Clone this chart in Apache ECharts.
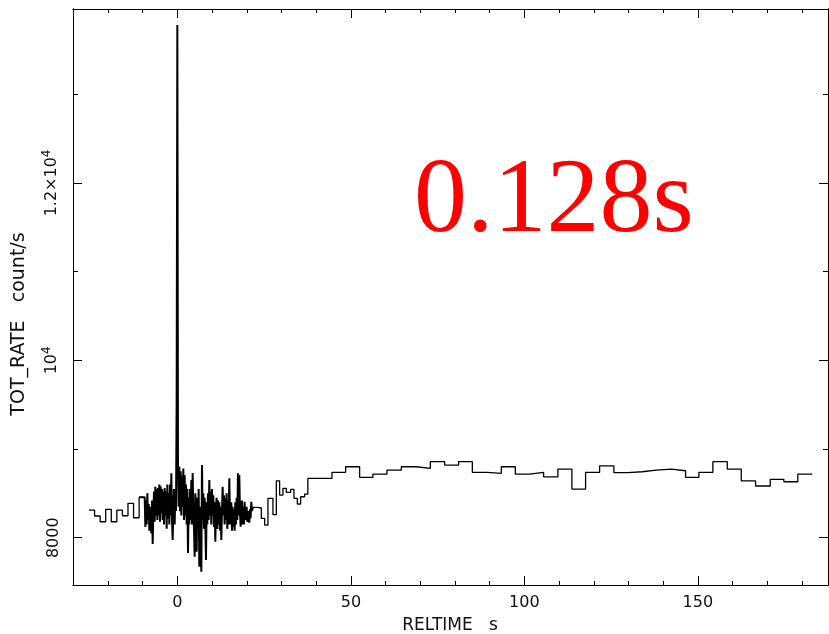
<!DOCTYPE html>
<html>
<head>
<meta charset="utf-8">
<script src="https://cdn.jsdelivr.net/npm/echarts@6/dist/echarts.min.js"></script>
<style>
  html, body { margin: 0; padding: 0; background: #fff; }
  #chart { width: 829px; height: 634px; }
</style>
</head>
<body>
<div id="chart"></div>
<script>
// light curve, count/s, binned at three resolutions
const preStart = -25.47
const preBin = 1.605
const preRate = [8312, 8245, 8180, 8320, 8180, 8312, 8248, 8388, 8225, 8455]

const burstStart = -9.42
const burstBin = 0.192
const burstRate = [
  8450, 8120, 8420, 8150, 8500, 8200, 8380, 8080, 8350, 8150,
  8050, 8420, 7930, 8300, 8520, 8180, 8575, 8250, 8550, 8200,
  8560, 8250, 8600, 8180, 8580, 8280, 8550, 8200, 8520, 8150,
  8560, 8250, 8520, 8100, 8600, 8220, 8500, 8150, 8600, 8250,
  8726, 8200, 7974, 8350, 8550, 8150, 8520, 8300, 9600, 13780,
  8820, 8350, 8800, 8300, 8750, 8250, 8700, 8350, 8780, 8200,
  8707, 8250, 8600, 8150, 8550, 7828, 8450, 8150, 8550, 8200,
  8650, 8150, 8729, 8300, 8100, 7786, 8500, 8200, 7842, 8450,
  8150, 8550, 7673, 8350, 8050, 7617, 8819, 8200, 8500, 8100,
  8450, 8150, 7749, 8400, 8150, 8500, 8200, 8650, 8250, 8520,
  8150, 8550, 8250, 8480, 8120, 8400, 7955, 8350, 8450, 8100,
  8420, 8150, 8400, 8080, 8350, 7974, 8300, 8575, 8250, 8480,
  8150, 8450, 8200, 8500, 8100, 8420, 8150, 8669, 8250, 8150,
  8400, 8080, 8350, 8120, 8320, 8080, 8400, 8150, 8450, 8200,
  8726, 8250, 8707, 8300, 8124, 8300, 8420, 8150, 8350, 8150,
  8406, 8200, 8190, 8350, 8180, 8190, 8300, 8170, 8320, 8220, 8406, 8300
]

const midTimes = [21.78, 22.99, 24.2, 25.15, 26.1, 27.54, 28.52, 29.47, 30.42, 31.4, 32.64, 33.59, 34.57, 35.52, 36.67]
const midRate = [8343, 8335, 8219, 8143, 8444, 8260, 8642, 8481, 8557, 8512, 8545, 8444, 8380, 8462, 8492]

const tailTimes = [
  37.6, 40.5, 44.55, 48.49, 52.52, 56.36, 60.39, 64.54, 68.86, 72.9,
  77.02, 81.05, 85.0, 89.21, 93.35, 97.39, 101.51, 105.54, 109.66, 113.69,
  117.64, 121.68, 125.8, 129.83, 133.98, 138.01, 142.34, 146.46, 150.29, 154.32,
  158.47, 162.5, 166.63, 170.86, 174.78, 178.81
]
const tailEnd = 182.96
const tailRate = [
  8669, 8669, 8737, 8800, 8681, 8718, 8763, 8800, 8782, 8857,
  8819, 8857, 8737, 8726, 8800, 8718, 8737, 8687, 8774, 8549,
  8737, 8811, 8733, 8744, 8763, 8774, 8755, 8681, 8737, 8857,
  8774, 8642, 8583, 8658, 8631, 8718
]

const xMajor = [0, 50, 100, 150]
const xMinor = [-20, -10, 10, 20, 30, 40, 60, 70, 80, 90, 110, 120, 130, 140, 160, 170, 180]
const yMajor = [8000, 10000, 12000]
const yMinor = [9000, 11000, 13000]

const xMin = -30.08
const xMax = 187.5
const yMin = 7467
const yMax = 13961

const prePts = preRate.map((v, i) => [preStart + i * preBin, v])
const burstPts = burstRate.map((v, i) => [burstStart + i * burstBin, v])
const restPts = midTimes.map((t, i) => [t, midRate[i]])
tailTimes.forEach((t, i) => restPts.push([t, tailRate[i]]))
restPts.push([tailEnd, tailRate[tailRate.length - 1]])

const labelFont = { fontFamily: 'DejaVu Sans', fontSize: 16, color: '#111' }

const makeX = (position, ticks, len, withLabel) => ({
  type: 'value',
  position: position,
  min: xMin,
  max: xMax,
  axisLine: { show: true, onZero: false, lineStyle: { color: '#000', width: 1 } },
  axisTick: { show: true, inside: true, length: len, customValues: ticks, lineStyle: { color: '#000' } },
  axisLabel: withLabel
    ? { show: true, customValues: ticks, margin: 10, ...labelFont }
    : { show: false },
  splitLine: { show: false }
})

const yLabel = v => {
  if (v === 10000) return '10{s|4}'
  if (v === 12000) return '1.2×10{s|4}'
  return String(v)
}

const makeY = (position, ticks, len, withLabel) => ({
  type: 'value',
  position: position,
  min: yMin,
  max: yMax,
  axisLine: { show: true, onZero: false, lineStyle: { color: '#000', width: 1 } },
  axisTick: { show: true, inside: true, length: len, customValues: ticks, lineStyle: { color: '#000' } },
  axisLabel: withLabel
    ? {
        show: true,
        customValues: ticks,
        rotate: 90,
        margin: 11,
        formatter: yLabel,
        ...labelFont,
        rich: { s: { fontFamily: 'DejaVu Sans', fontSize: 12, color: '#111', verticalAlign: 'top', padding: [0, 0, 9, 0] } }
      }
    : { show: false },
  splitLine: { show: false }
})

const chart = echarts.init(document.getElementById('chart'), null, { renderer: 'canvas' })

const stepLine = (data, width) => ({
  type: 'line',
  xAxisIndex: 0,
  yAxisIndex: 0,
  step: 'end',
  showSymbol: false,
  data: data,
  lineStyle: { color: '#000', width: width }
})

chart.setOption({
  animation: false,
  backgroundColor: '#fff',
  grid: { left: 73, right: 1, top: 9, bottom: 49 },
  xAxis: [
    makeX('bottom', xMajor, 9, true),
    makeX('bottom', xMinor, 4, false),
    makeX('top', xMajor, 9, false),
    makeX('top', xMinor, 4, false)
  ],
  yAxis: [
    makeY('left', yMajor, 9, true),
    makeY('left', yMinor, 5, false),
    makeY('right', yMajor, 9, false),
    makeY('right', yMinor, 5, false)
  ],
  series: [
    stepLine(prePts.concat([burstPts[0]]), 1.3),
    stepLine([prePts[prePts.length - 1]].concat(burstPts, [restPts[0]]), 2),
    stepLine(restPts, 1.3)
  ],
  graphic: [
    {
      type: 'text',
      x: 450,
      y: 626,
      style: { text: 'RELTIME   s', fill: '#111', font: '17px "DejaVu Sans"', align: 'center', verticalAlign: 'middle' }
    },
    {
      type: 'text',
      x: 19,
      y: 324,
      rotation: Math.PI / 2,
      style: { text: 'TOT_RATE   count/s', fill: '#111', font: '19px "DejaVu Sans"', align: 'center', verticalAlign: 'middle' }
    },
    {
      type: 'text',
      x: 414,
      y: 203,
      style: { text: '0.128s', fill: '#ff0000', font: '106px "Liberation Serif"', align: 'left', verticalAlign: 'middle' }
    }
  ]
})
</script>
</body>
</html>
